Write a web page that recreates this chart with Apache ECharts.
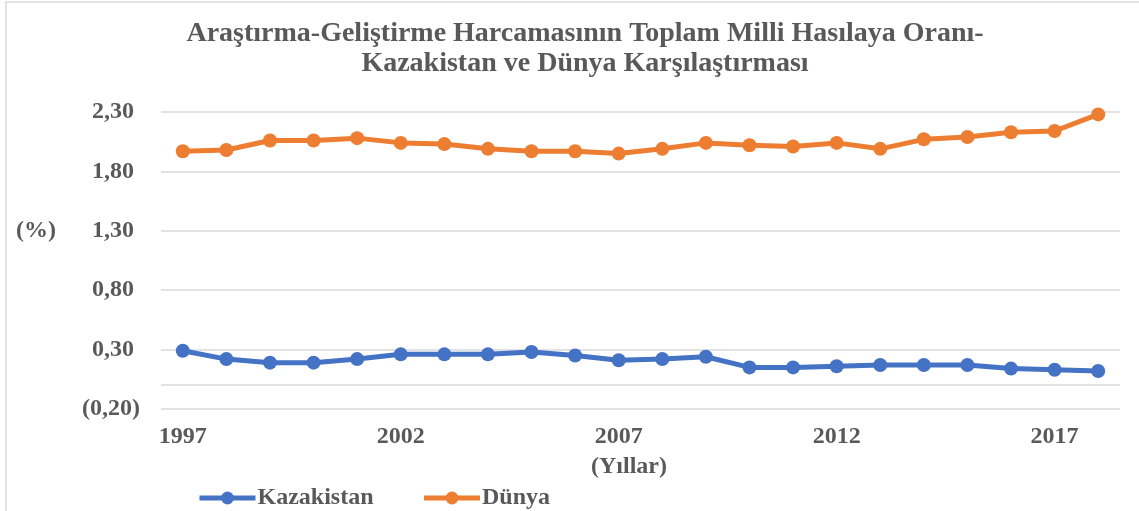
<!DOCTYPE html>
<html>
<head>
<meta charset="utf-8">
<script src="https://cdn.jsdelivr.net/npm/echarts@6/dist/echarts.min.js"></script>
<style>
  html, body { margin: 0; padding: 0; background: #fff; }
  #main { width: 1139px; height: 511px; }
</style>
</head>
<body>
<div id="main"></div>
<script>
// data
const years = ['1997', '1998', '1999', '2000', '2001', '2002', '2003', '2004', '2005', '2006', '2007',
  '2008', '2009', '2010', '2011', '2012', '2013', '2014', '2015', '2016', '2017', '2018'];
const kazakistan = [0.29, 0.22, 0.19, 0.19, 0.22, 0.26, 0.26, 0.26, 0.28, 0.25, 0.21,
  0.22, 0.24, 0.15, 0.15, 0.16, 0.17, 0.17, 0.17, 0.14, 0.13, 0.12];
const dunya = [1.97, 1.98, 2.06, 2.06, 2.08, 2.04, 2.03, 1.99, 1.97, 1.97, 1.95,
  1.99, 2.04, 2.02, 2.01, 2.04, 1.99, 2.07, 2.09, 2.13, 2.14, 2.28];
const yTicks = [-0.2, 0.3, 0.8, 1.3, 1.8, 2.3];
// the horizontal axis crosses the value axis at zero
const zeroTick = [0];

const font = '"Liberation Serif", "Times New Roman", serif';
const grey = '#595959';
const gridGrey = '#d9d9d9';

// excel style: negatives in brackets, positives keep room for the bracket
function fmt(v) {
  const s = Math.abs(v).toFixed(2).replace('.', ',');
  return v < 0 ? '(' + s + ')' : s + ' ';
}

const chart = echarts.init(document.getElementById('main'));

const option = {
  animation: false,
  title: {
    text: 'Araştırma-Geliştirme Harcamasının Toplam Milli Hasılaya Oranı-\nKazakistan ve Dünya Karşılaştırması',
    left: 580,
    textAlign: 'center',
    top: 14,
    textStyle: { fontFamily: font, fontWeight: 'bold', fontSize: 28, color: grey, lineHeight: 30 }
  },
  legend: {
    left: 192,
    top: 481,
    itemWidth: 56,
    itemHeight: 16,
    itemGap: 48,
    lineStyle: { width: 5 },
    textStyle: { fontFamily: font, fontWeight: 'bold', fontSize: 24, color: grey, padding: [0, 0, 0, -3] },
    data: ['Kazakistan', 'Dünya']
  },
  graphic: [
    { type: 'rect', shape: { x: 6, y: 2, width: 1200, height: 600 }, style: { fill: 'none', stroke: gridGrey, lineWidth: 1.5 }, silent: true },
    { type: 'text', left: 16, top: 219, style: { text: '(%)', font: 'bold 24px ' + font, fill: grey } },
    { type: 'text', left: 591, top: 455, style: { text: '(Yıllar)', font: 'bold 24px ' + font, fill: grey } }
  ],
  grid: { left: 161, right: 19, top: 112, bottom: 102, containLabel: false },
  xAxis: {
    type: 'category',
    data: years,
    boundaryGap: true,
    axisLine: { show: false, onZero: false },
    axisTick: { show: false },
    axisLabel: {
      interval: 4,
      margin: 16,
      fontFamily: font, fontWeight: 'bold', fontSize: 24, color: grey
    }
  },
  yAxis: [
    {
      type: 'value',
      min: -0.2,
      max: 2.3,
      axisLine: { show: false },
      axisTick: { show: false, customValues: yTicks },
      splitLine: { lineStyle: { color: gridGrey, width: 1.5 } },
      axisLabel: {
        customValues: yTicks,
        margin: 21,
        formatter: fmt,
        fontFamily: font, fontWeight: 'bold', fontSize: 24, color: grey
      }
    },
    {
      // overlay axis only used to draw the zero crossing line
      type: 'value',
      min: -0.2,
      max: 2.3,
      position: 'right',
      axisLine: { show: false },
      axisTick: { show: false, customValues: zeroTick },
      splitLine: { show: true, lineStyle: { color: gridGrey, width: 1.5 } },
      axisLabel: {
        customValues: zeroTick,
        formatter: '0',
        color: 'rgba(0,0,0,0)'
      }
    }
  ],
  series: [
    {
      name: 'Kazakistan',
      type: 'line',
      data: kazakistan,
      symbol: 'circle',
      symbolSize: 14,
      color: '#4472C4',
      lineStyle: { width: 5 }
    },
    {
      name: 'Dünya',
      type: 'line',
      data: dunya,
      symbol: 'circle',
      symbolSize: 14,
      color: '#ED7D31',
      lineStyle: { width: 5 }
    }
  ]
};

chart.setOption(option);
</script>
</body>
</html>
